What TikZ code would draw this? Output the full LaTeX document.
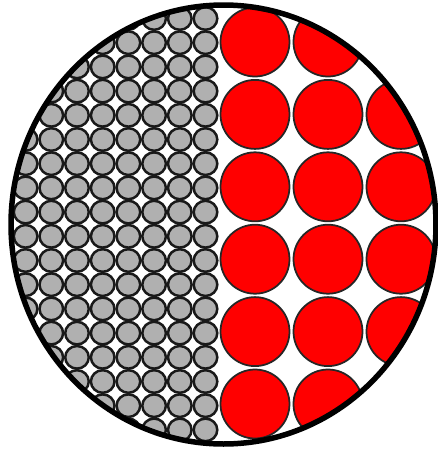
\documentclass[tikz,border=0pt]{standalone}
\usepackage{tikz}
\usetikzlibrary{positioning}
\usepackage{xcolor}
\definecolor{grainclr}{RGB}{176,176,176}
\definecolor{cellclr}{RGB}{255,0,0}

\begin{document}
\begin{tikzpicture}[x=0.02cm,y=-0.02cm,
    grain/.style={draw=black!90, fill=grainclr, line width=0.05cm},
    cell/.style={draw=black!85, fill=cellclr, line width=0.035cm}]
    \useasboundingbox (0,0) rectangle (438,451);
    % packed grains on the left, big cells on the right
    \begin{scope}
      \clip (223.5,224.5) ellipse [x radius=212.5, y radius=219.5];
      \foreach \i in {0,...,8}
        \foreach \j in {0,...,17}
          \draw[grain] ({205.5-25.7*\i},{18.5+24.2*\j}) ellipse [x radius=11.8, y radius=11.3];
      \foreach \i in {0,...,2}
        \foreach \j in {-1,...,6}
          \draw[cell] ({255+73*\i},{42+72.4*\j}) circle [radius=34.5];
    \end{scope}
    \draw[line width=0.11cm] (223.5,224.5) ellipse [x radius=212.5, y radius=219.5];
\end{tikzpicture}
\end{document}
